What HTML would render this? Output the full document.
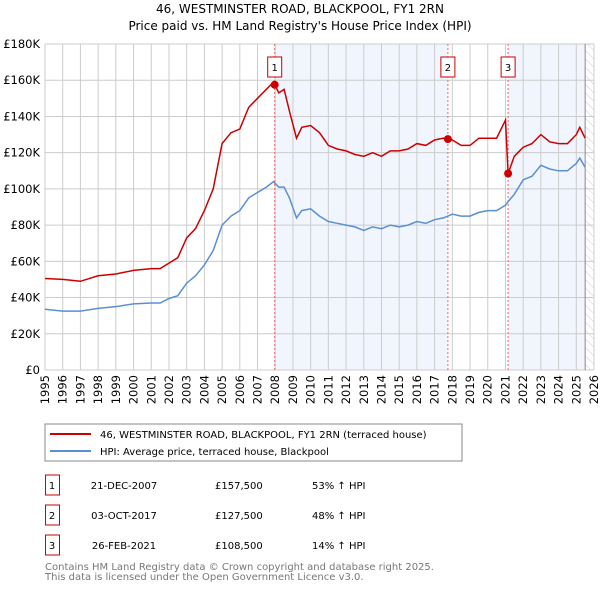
<!DOCTYPE html>
<html><head><meta charset="utf-8"><style>
body{margin:0;width:600px;height:590px;background:#fff;font-family:"DejaVu Sans","Liberation Sans",sans-serif;overflow:hidden}
svg text{font-family:"DejaVu Sans","Liberation Sans",sans-serif}
</style></head><body>
<svg id="chart" width="600" height="590">
<defs><pattern id="hatch" width="6" height="6" patternUnits="userSpaceOnUse" patternTransform="rotate(-45)"><line x1="0" y1="0" x2="0" y2="6" stroke="#ccc" stroke-width="1"/></pattern></defs>
<text x="300" y="13" text-anchor="middle" font-size="12">46, WESTMINSTER ROAD, BLACKPOOL, FY1 2RN</text>
<text x="300" y="30" text-anchor="middle" font-size="12">Price paid vs. HM Land Registry's House Price Index (HPI)</text>
<g id="plot"></g>
<rect x="45" y="424" width="417" height="37" fill="#fff" stroke="#888"/>
<line x1="50" y1="434" x2="91" y2="434" stroke="#cc0000" stroke-width="2"/>
<text x="100" y="438" font-size="10">46, WESTMINSTER ROAD, BLACKPOOL, FY1 2RN (terraced house)</text>
<line x1="50" y1="451" x2="91" y2="451" stroke="#5b8fd4" stroke-width="2"/>
<text x="100" y="455" font-size="10">HPI: Average price, terraced house, Blackpool</text>
<g id="table" font-size="10"></g>
<text x="45" y="570" font-size="10" fill="#777">Contains HM Land Registry data © Crown copyright and database right 2025.</text>
<text x="45" y="580" font-size="10" fill="#777">This data is licensed under the Open Government Licence v3.0.</text>
</svg>
<script>
const years=[1995,1996,1997,1998,1999,2000,2001,2001.5,2002,2002.5,2003,2003.5,2004,2004.5,2005,2005.5,2006,2006.5,2007,2007.5,2007.9,2008.2,2008.5,2008.8,2009.2,2009.5,2010,2010.5,2011,2011.5,2012,2012.5,2013,2013.5,2014,2014.5,2015,2015.5,2016,2016.5,2017,2017.5,2018,2018.5,2019,2019.5,2020,2020.5,2021,2021.15,2021.5,2022,2022.5,2023,2023.5,2024,2024.5,2025,2025.2,2025.5];
const hpiValues=[33.5,32.5,32.5,34,35,36.5,37,37,39.5,41,48,52,58,66,80,85,88,95,98,101,104,101,101,95,84,88,89,85,82,81,80,79,77,79,78,80,79,80,82,81,83,84,86,85,85,87,88,88,91,93,97,105,107,113,111,110,110,114,117,112];
const priceValues=[50.5,50,49,52,53,55,56,56,59,62,73,78,88,100,125,131,133,145,150,155,159,153,155,143,128,134,135,131,124,122,121,119,118,120,118,121,121,122,125,124,127,128,127,124,124,128,128,128,138,108.5,118,123,125,130,126,125,125,130,134,128];
const saleYears=[2007.97,2017.75,2021.15];
const salePrices=[157.5,127.5,108.5];
const saleLabels=["1","2","3"];
const saleDates=["21-DEC-2007","03-OCT-2017","26-FEB-2021"];
const salePriceText=["£157,500","£127,500","£108,500"];
const saleHpiText=["53% ↑ HPI","48% ↑ HPI","14% ↑ HPI"];
const yTicks=[0,20,40,60,80,100,120,140,160,180];
const xTicks=[1995,1996,1997,1998,1999,2000,2001,2002,2003,2004,2005,2006,2007,2008,2009,2010,2011,2012,2013,2014,2015,2016,2017,2018,2019,2020,2021,2022,2023,2024,2025,2026];

const L=45,R=594,T=44,B=370;
const sx=y=>L+(y-1995)/(2026-1995)*(R-L);
const sy=v=>B-v/180*(B-T);
const NS="http://www.w3.org/2000/svg";
const g=document.getElementById('plot');
function mk(tag,attrs,parent){const e=document.createElementNS(NS,tag);for(const k in attrs)e.setAttribute(k,attrs[k]);(parent||g).appendChild(e);return e;}

let e;
e=mk('rect',{x:sx(saleYears[0]),y:T,width:sx(saleYears[1])-sx(saleYears[0]),height:B-T,fill:'#eef3fc',opacity:0.8});


e=mk('rect',{x:sx(saleYears[2]),y:T,width:sx(2025.5)-sx(saleYears[2]),height:B-T,fill:'#eef3fc',opacity:0.8});


e=mk('rect',{x:sx(2025.5),y:T,width:R-sx(2025.5),height:B-T,fill:'url(#hatch)'});



yTicks.forEach(v=>{
 e=mk('line',{x1:L,x2:R,y1:sy(v),y2:sy(v),stroke:'#ccc','stroke-width':1});
 
 
 e=mk('text',{x:L-5,y:sy(v)+4,'text-anchor':'end','font-size':11.5});
 e.textContent=v===0?'£0':'£'+v+'K';
 
 
});
xTicks.forEach(y=>{
 e=mk('line',{x1:sx(y),x2:sx(y),y1:T,y2:B,stroke:'#ccc','stroke-width':1});
 
 
 e=mk('text',{x:0,y:0,'text-anchor':'end','font-size':11.5,transform:`translate(${sx(y)+4},${B+5}) rotate(-90)`});
 e.textContent=y;
 
 
});
e=mk('line',{x1:sx(2025.5),x2:sx(2025.5),y1:T,y2:B,stroke:'#888','stroke-width':1});



saleYears.forEach((y,i)=>{
 e=mk('line',{x1:sx(y),x2:sx(y),y1:T,y2:B,stroke:'#e66','stroke-width':1,'stroke-dasharray':'2,2'});
 
 
 e=mk('rect',{x:sx(y)-7,y:57,width:14,height:20,fill:'#fff',stroke:'#c00'});
 
 
 e=mk('text',{x:sx(y),y:71,'text-anchor':'middle','font-size':10});
 e.textContent=saleLabels[i];
 
 
});

function line(vals,color,name){
 const d=years.map((y,i)=>(i?'L':'M')+sx(y).toFixed(1)+','+sy(vals[i]).toFixed(1)).join('');
 const p=mk('path',{d:d,fill:'none',stroke:color,'stroke-width':1.5});
 
 
}
line(hpiValues,'#5b8fd4','hpi-line');
line(priceValues,'#cc0000','price-line');
saleYears.forEach((y,i)=>{
 e=mk('circle',{cx:sx(y),cy:sy(salePrices[i]),r:4,fill:'#cc0000'});
 
 
});

const tg=document.getElementById('table');
saleYears.forEach((y,i)=>{
 const cy=483+i*30;
 e=mk('rect',{x:45.5,y:cy-8,width:14,height:20,fill:'#fff',stroke:'#c00'},tg);
 
 
 const cells=[[52,saleLabels[i],'middle'],[124,saleDates[i],'middle'],[215,salePriceText[i],'start'],[312,saleHpiText[i],'start']];
 cells.forEach(c=>{
  e=mk('text',{x:c[0],y:cy+6,'text-anchor':c[2]},tg);
  e.textContent=c[1];
  
  
 });
});
</script>
</body></html>
